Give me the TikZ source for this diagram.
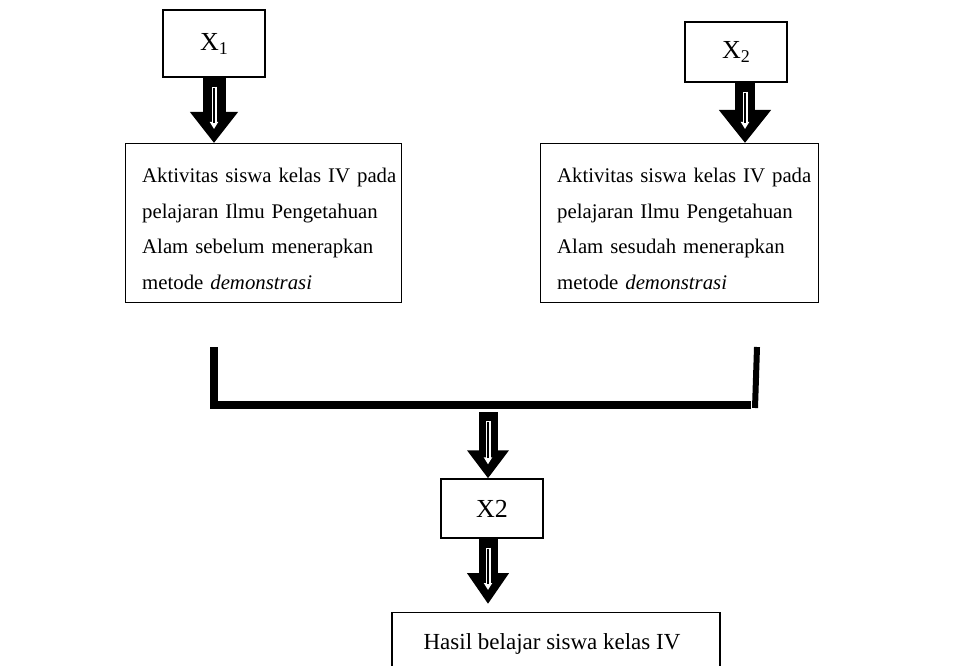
\documentclass[tikz,border=0pt]{standalone}
\usepackage{fontspec}
\setmainfont{Liberation Serif}
\usetikzlibrary{arrows.meta,calc}
\tikzset{
  box/.style={draw=black, line width=1.3pt, rectangle, inner sep=0pt},
  txt/.style={inner sep=0pt, text width=262pt, align=left, font=\fontsize{20.8}{35.5}\selectfont},
  lbl/.style={inner sep=0pt, font=\fontsize{26}{30}\selectfont},
  hlbl/.style={inner sep=0pt, font=\fontsize{23}{27}\selectfont},
  bracket/.style={line width=8pt, line cap=butt, line join=miter},
}
\newcommand\subx[1]{\raisebox{-4pt}{\fontsize{18}{21}\selectfont #1}}
\newcommand\fatarrow[5]{%
  \draw[line width=#3, -{Triangle[width=#4,length=#5]}] (#1) -- (#2);
  \draw[white, line width=5pt, -{Triangle[width=8pt,length=7pt]}] ($(#1)+(0,9)$) -- ($(#2)+(0,-14)$);
  \draw[black, line width=1.6pt] ($(#1)+(0,10)$) -- ($(#2)+(0,-20)$);
}
\begin{document}
\begin{tikzpicture}[x=1pt,y=-1pt]
\useasboundingbox (0,0) rectangle (958,666);
\clip (0,0) rectangle (958,666);
% top boxes
\node[box, minimum width=102pt, minimum height=67pt] (x1) at (214,43.5) {};
\node[lbl] (x1t) at (x1.center) {X\subx{1}};
\node[box, minimum width=102pt, minimum height=60pt] (x2) at (736,52) {};
\node[lbl] (x2t) at (x2.center) {X\subx{2}};
% big boxes
\node[box, minimum width=276pt, minimum height=159pt, anchor=north west] (b1) at (125,143) {};
\node[txt, anchor=north west] (t1) at (142,168) {Aktivitas siswa kelas IV pada\\pelajaran Ilmu Pengetahuan\\Alam sebelum menerapkan\\metode \textit{demonstrasi}};
\node[box, minimum width=278pt, minimum height=159pt, anchor=north west] (b2) at (540,143) {};
\node[txt, anchor=north west] (t2) at (557,168) {Aktivitas siswa kelas IV pada\\pelajaran Ilmu Pengetahuan\\Alam sesudah menerapkan\\metode \textit{demonstrasi}};
% middle box
\node[box, minimum width=102pt, minimum height=59pt] (x3) at (492,508.5) {};
\node[lbl] (x3t) at (x3.center) {X2};
% bottom box
\node[box, minimum width=328pt, minimum height=64pt, anchor=north] (hb) at (556,612) {};
\node[hlbl] (hbt) at ($(hb.north)+(-4,32)$) {Hasil belajar siswa kelas IV};
% arrows top
\coordinate (la) at (x1.south);
\fatarrow{la}{la |- b1.north}{23pt}{46pt}{31pt}
\coordinate (ra) at ($(x2.south)+(9,0)$);
\fatarrow{ra}{ra |- b2.north}{20pt}{50pt}{33pt}
% bracket
\coordinate (bl1) at (214,347);
\coordinate (bl2) at (214,405);
\coordinate (br2) at (751,405);
\coordinate (br3) at (757,347);
\coordinate (br4) at (755,408);
\draw[bracket] (bl1) -- (bl2) -- (br2);
\draw[line width=6pt] (br3) -- (br4);
% middle arrows
\coordinate (m1) at (488,412);
\fatarrow{m1}{m1 |- x3.north}{19pt}{40pt}{28pt}
\coordinate (m2) at (x3.south -| m1);
\fatarrow{m2}{$(hb.north -| m1)+(0,-8)$}{19pt}{40pt}{31pt}
\end{tikzpicture}
\end{document}
